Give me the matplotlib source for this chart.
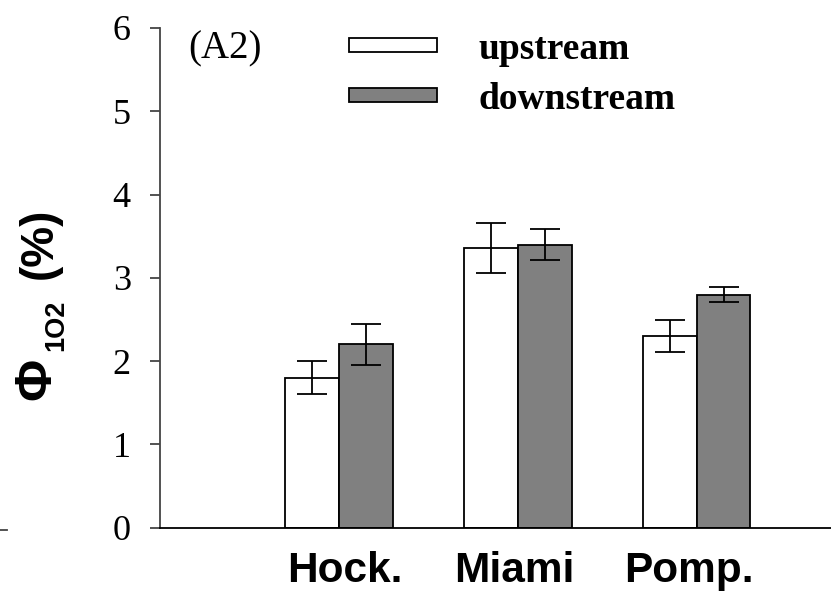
import matplotlib
matplotlib.use('Agg')
import matplotlib.pyplot as plt
import matplotlib.transforms as mtransforms
import numpy as np
from matplotlib.lines import Line2D

sites = ['Hock.', 'Miami', 'Pomp.']
upstream = [1.80, 3.36, 2.30]
upstream_err = [0.20, 0.30, 0.19]
downstream = [2.20, 3.40, 2.80]
downstream_err = [0.25, 0.19, 0.09]

W, H = 831, 597
fig = plt.figure(figsize=(W/100, H/100), dpi=100)
ax = fig.add_axes([160/W, 1 - 527.7/H, 1 - 160/W, (527.7 - 28)/H])

def px(xp, yp):
    # pixel position -> figure fraction
    return xp / W, 1 - yp / H

x = np.arange(len(sites))
w = 0.30
err_kw = dict(ecolor='black', elinewidth=1.3, capsize=10.5, capthick=1.3)
ax.bar(x - w/2, upstream, w, yerr=upstream_err, color='white', edgecolor='black',
       linewidth=1.3, label='upstream', error_kw=err_kw)
ax.bar(x + w/2, downstream, w, yerr=downstream_err, color='#808080', edgecolor='black',
       linewidth=1.3, label='downstream', error_kw=err_kw)

ax.set_xlim(-1.0, 2.75)
ax.set_ylim(0, 6)
ax.set_yticks(range(0, 7))
ax.spines['top'].set_visible(False)
ax.spines['right'].set_visible(False)
ax.spines['left'].set_color('#444444')
ax.spines['left'].set_linewidth(1.3)
ax.spines['bottom'].set_linewidth(1.3)

ax.tick_params(axis='y', direction='out', length=7, width=1.3, color='#444444', pad=14)
for t in ax.get_yticklabels():
    t.set_fontfamily('Liberation Serif')
    t.set_fontsize(26)

ax.set_xticks(x)
ax.set_xticklabels(sites, fontfamily='Liberation Sans', fontweight='bold', fontsize=30.5)
ax.tick_params(axis='x', length=0, pad=17)
# the category labels sit slightly off-centre in the original
for t, dx in zip(ax.get_xticklabels(), [6, -4, -8]):
    t.set_transform(t.get_transform() +
                    mtransforms.ScaledTranslation(dx / 100, 0, fig.dpi_scale_trans))

# y label built from pieces: Phi, small subscript, (%)
lab = dict(fontfamily='Liberation Sans', fontweight='bold', rotation=90,
           ha='center', va='center')
fig.text(*px(37, 379), 'Φ', fontsize=37, **lab)
fig.text(*px(56, 325), '1O2', fontsize=19.5, **lab)
fig.text(*px(40, 243), '(%)', fontsize=33, **lab)

ax.text(0.042, 0.995, '(A2)', transform=ax.transAxes, fontfamily='Liberation Serif',
        fontsize=28, va='top', ha='left')

leg = ax.legend(loc='upper left', bbox_to_anchor=(0.254, 1.03), frameon=False,
                prop={'family': 'Liberation Serif', 'weight': 'bold', 'size': 27},
                handlelength=2.35, handleheight=0.22, handletextpad=1.1,
                labelspacing=0.4, borderpad=0)

# stray tick mark at left edge from neighbouring panel
fig.add_artist(Line2D([0, 7/W], [1 - 530/H, 1 - 530/H], color='#444444', lw=1.3,
                      transform=fig.transFigure))

fig.savefig('out.png', dpi=100)
